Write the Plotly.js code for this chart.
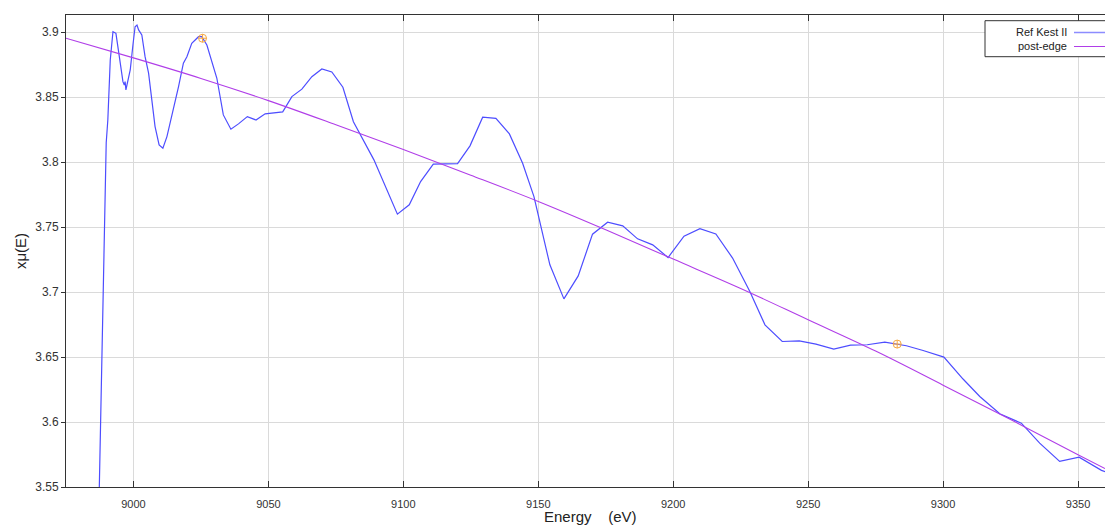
<!DOCTYPE html>
<html>
<head>
<meta charset="utf-8">
<script src="https://cdn.plot.ly/plotly-3.0.1.min.js"></script>
<style>html,body{margin:0;padding:0;background:#fff;}#plot{width:1105px;height:526px;}</style>
</head>
<body>
<div id="plot"></div>
<script>
// Ref Kest II spectrum (energy in eV, xmu)
const energy = [8987.3, 8988.6, 8989.9, 8990.5, 8991.4, 8992.4, 8993.5, 8994.4, 8995.4, 8996.1, 8996.6, 8996.9, 8997.2, 8997.8,
  8998.8, 8999.8, 9000.6, 9001.3, 9001.9, 9003.1, 9004.3, 9005.6, 9006.8, 9008.0, 9009.5, 9010.2, 9010.9, 9012.4,
  9014.2, 9016.7, 9018.5, 9019.8, 9021.6, 9024.1, 9025.3, 9027.2, 9030.9, 9033.3, 9036.1, 9038.9, 9042.2, 9045.4,
  9048.8, 9055.3, 9058.7, 9062.4, 9066.1, 9069.8, 9073.5, 9077.6, 9081.5, 9089.1, 9097.8, 9102.2, 9106.4, 9111.1,
  9120.1, 9124.7, 9129.4, 9134.3, 9139.3, 9144.2, 9148.4, 9154.3, 9159.5, 9164.8, 9170.1, 9175.7, 9181.3, 9186.8,
  9192.4, 9198.1, 9204.0, 9209.9, 9215.8, 9222.0, 9228.4, 9234.0, 9240.4, 9246.7, 9252.9, 9259.5, 9265.7, 9271.9,
  9278.4, 9282.7, 9286.4, 9292.6, 9300.3, 9307.4, 9313.6, 9321.0, 9329.0, 9335.8, 9343.2, 9350.4, 9358.7, 9361.0];
const xmu = [3.545, 3.68, 3.815, 3.8325, 3.8787, 3.9005, 3.8992, 3.8864, 3.8735, 3.862, 3.8595, 3.862, 3.8556, 3.8608,
  3.871, 3.8902, 3.9043, 3.9056, 3.9018, 3.8979, 3.8812, 3.8685, 3.8454, 3.8274, 3.8133, 3.8118, 3.8108, 3.8197,
  3.8351, 3.8582, 3.8762, 3.8812, 3.8915, 3.8966, 3.8966, 3.8902, 3.8646, 3.8364, 3.8254, 3.8295, 3.8351, 3.8325,
  3.8372, 3.8387, 3.8505, 3.8562, 3.8658, 3.8718, 3.8695, 3.8577, 3.8312, 3.8018, 3.76, 3.7672, 3.7851, 3.7985,
  3.7989, 3.8126, 3.8346, 3.8338, 3.8218, 3.7992, 3.7735, 3.721, 3.6948, 3.7125, 3.7446, 3.7538, 3.751, 3.741,
  3.7364, 3.7266, 3.7431, 3.7489, 3.7448, 3.7262, 3.7005, 3.6748, 3.662, 3.6625, 3.66, 3.6562, 3.6592, 3.6595,
  3.6615, 3.6602, 3.6587, 3.6551, 3.65, 3.6331, 3.6197, 3.6064, 3.5991, 3.5838, 3.5697, 3.5729, 3.5628, 3.5612];

// post-edge curve
const postEnergy = [8975, 9000, 9025, 9050, 9075, 9100, 9125, 9150, 9175, 9200, 9225, 9250, 9275, 9300, 9325, 9350, 9360];
const postXmu = [3.8954, 3.8803, 3.8645, 3.8474, 3.8288, 3.8097, 3.7900, 3.7698, 3.7480, 3.7254, 3.7028, 3.6787, 3.6546, 3.6284, 3.6019, 3.5748, 3.5642];

// normalization range markers
const markerEnergy = [9025.6, 9283.0];
const markerXmu = [3.8954, 3.6600];

const legendNames = ['Ref Kest II', 'post-edge'];
const xTitle = 'Energy\u00a0\u00a0\u00a0\u00a0(eV)';
const yTitle = 'xμ(E)';
const xTickVals = [9000, 9050, 9100, 9150, 9200, 9250, 9300, 9350];
const yTickVals = [3.55, 3.6, 3.65, 3.7, 3.75, 3.8, 3.85, 3.9];

const blue = '#4d4dff';
const purple = '#b03ee8';
const orange = '#f5a742';
const FONT = 'Liberation Sans, Arial, sans-serif';

const traces = [
  {x: energy, y: xmu, type: 'scatter', mode: 'lines', name: legendNames[0],
   line: {color: blue, width: 1.2}, showlegend: false},
  {x: postEnergy, y: postXmu, type: 'scatter', mode: 'lines', name: legendNames[1],
   line: {color: purple, width: 1.1, shape: 'spline'}, showlegend: false},
  {x: markerEnergy, y: markerXmu, type: 'scatter', mode: 'markers', showlegend: false,
   marker: {symbol: 'circle-cross-open', size: 8, color: orange, line: {width: 1, color: orange}}}
];

// custom legend (text left of the line sample, as in the reference)
const plotL = 66, plotW = 1039, plotT = 15, plotH = 472;
const px = v => (v - plotL) / plotW;
const py = v => (plotT + plotH - v) / plotH;

const layout = {
  width: 1105, height: 526,
  margin: {l: 66, r: 0, t: 15, b: 39},
  paper_bgcolor: '#fff', plot_bgcolor: '#fff',
  font: {family: FONT, size: 11, color: '#333'},
  showlegend: false,
  xaxis: {
    range: [8975, 9360], tickvals: xTickVals, ticks: 'inside', ticklen: 6, tickcolor: '#333',
    showline: true, linecolor: '#333', linewidth: 1, mirror: 'ticks',
    showgrid: true, gridcolor: '#dadada', gridwidth: 1, zeroline: false,
    ticklabelstandoff: 7,
    tickfont: {family: FONT, size: 11, color: '#333'}
  },
  yaxis: {
    range: [3.55, 3.9133], tickvals: yTickVals, ticks: 'outside', ticklen: 4, tickcolor: '#333',
    showline: true, linecolor: '#333', linewidth: 1,
    showgrid: true, gridcolor: '#dadada', gridwidth: 1, zeroline: false,
    tickfont: {family: FONT, size: 12, color: '#333'},
    title: {text: yTitle, font: {family: FONT, size: 15, color: '#222'}, standoff: 4}
  },
  shapes: [
    {type: 'rect', xref: 'paper', yref: 'paper', x0: px(985), x1: px(1115), y0: py(56.7), y1: py(20.7),
     line: {color: '#333', width: 1}, fillcolor: '#fff', layer: 'above'},
    {type: 'line', xref: 'paper', yref: 'paper', x0: px(1074), x1: px(1112), y0: py(32.5), y1: py(32.5),
     line: {color: '#8c8cff', width: 1.5}, layer: 'above'},
    {type: 'line', xref: 'paper', yref: 'paper', x0: px(1074), x1: px(1112), y0: py(46.5), y1: py(46.5),
     line: {color: purple, width: 1}, layer: 'above'}
  ],
  annotations: [
    {xref: 'paper', yref: 'paper', x: px(1069), y: py(32.5), xanchor: 'right', yanchor: 'middle',
     text: legendNames[0], showarrow: false, font: {family: FONT, size: 11, color: '#222'}},
    {xref: 'paper', yref: 'paper', x: px(1069), y: py(46.5), xanchor: 'right', yanchor: 'middle',
     text: legendNames[1], showarrow: false, font: {family: FONT, size: 11, color: '#222'}},
    {xref: 'paper', yref: 'paper', x: px(590), y: py(516), xanchor: 'center', yanchor: 'middle',
     text: xTitle, showarrow: false, font: {family: FONT, size: 15, color: '#222'}}
  ]
};

Plotly.newPlot('plot', traces, layout, {displayModeBar: false, staticPlot: true});
</script>
</body>
</html>
